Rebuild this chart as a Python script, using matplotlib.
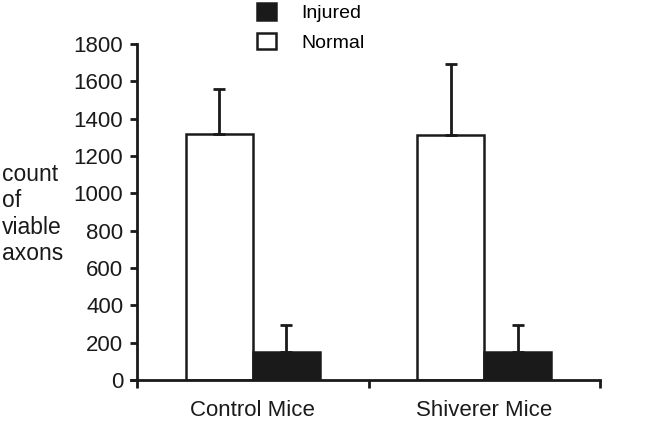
import matplotlib
matplotlib.use("Agg")
import matplotlib.pyplot as plt
import numpy as np

plt.rcParams['font.family'] = ['Liberation Sans', 'DejaVu Sans']

groups = ["Control Mice", "Shiverer Mice"]
normal_vals = [1320, 1310]
normal_err = [240, 385]
injured_vals = [150, 148]
injured_err = [145, 145]
yticks = [0, 200, 400, 600, 800, 1000, 1200, 1400, 1600, 1800]

fig = plt.figure(figsize=(6.45, 4.26), dpi=100)
ax = fig.add_axes([131 / 645, 0.108, 469 / 645, 0.7887])
ax.spines['left'].set_position(('data', 0))

centers = np.arange(len(groups)) + 0.5
w = 0.29
ekw = dict(elinewidth=2, capsize=4.5, capthick=2, ecolor='#1a1a1a')
b_norm = ax.bar(centers - w / 2, normal_vals, w, color='white', edgecolor='#1a1a1a',
                linewidth=1.8, yerr=[[0] * 2, normal_err], error_kw=ekw, label='Normal', zorder=2)
b_inj = ax.bar(centers + w / 2, injured_vals, w, color='#1a1a1a', edgecolor='#1a1a1a',
               linewidth=1.8, yerr=[[0] * 2, injured_err], error_kw=ekw, label='Injured', zorder=2)

ax.set_xlim(-0.026, 2)
ax.set_ylim(0, 1800)
ax.set_yticks(yticks)
ax.set_yticklabels([str(v) for v in yticks], fontsize=16, color='#1a1a1a')
ax.set_xticks([0, 1, 2])
ax.set_xticklabels([])
for c, g in zip(centers, groups):
    ax.text(c, -165, g, ha='center', va='center', fontsize=16, color='#1a1a1a')

for s in ['top', 'right']:
    ax.spines[s].set_visible(False)
for s in ['left', 'bottom']:
    ax.spines[s].set_linewidth(2)
    ax.spines[s].set_color('#1a1a1a')
ax.tick_params(axis='y', length=5, width=2, color='#1a1a1a', pad=5)
ax.tick_params(axis='x', length=6, width=2, color='#1a1a1a')

fig.text(2 / 645, 1 - 214 / 426, "count\nof\nviable\naxons", ha='left', va='center',
         fontsize=16.5, color='#1a1a1a', linespacing=1.2)

fig.legend(handles=[b_inj, b_norm], labels=['Injured', 'Normal'], loc='upper left',
           bbox_to_anchor=(254 / 645, 1.0), frameon=False, fontsize=14,
           handlelength=1.0, handleheight=0.95, handletextpad=1.3, labelspacing=0.55,
           borderaxespad=0.0, borderpad=0.15)

fig.savefig("out.png", dpi=100)
